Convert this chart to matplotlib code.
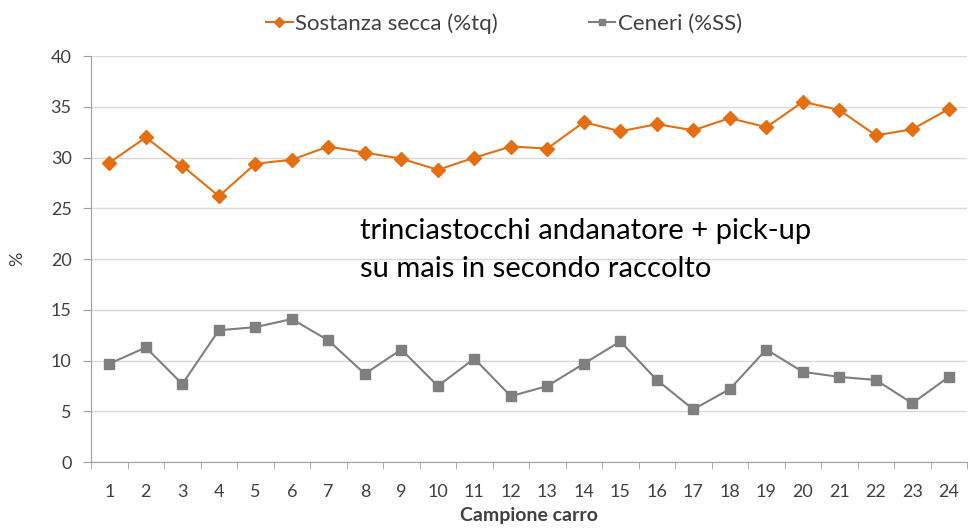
import matplotlib.pyplot as plt

campioni = list(range(1, 25))
sostanza_secca = [29.5, 32.0, 29.2, 26.2, 29.4, 29.8, 31.1, 30.5, 29.9, 28.8, 30.0, 31.1,
                  30.9, 33.5, 32.6, 33.3, 32.7, 33.9, 33.0, 35.5, 34.7, 32.2, 32.8, 34.8]
ceneri = [9.7, 11.3, 7.7, 13.0, 13.3, 14.1, 12.0, 8.7, 11.1, 7.5, 10.2, 6.5,
          7.5, 9.7, 11.9, 8.1, 5.2, 7.2, 11.1, 8.9, 8.4, 8.1, 5.8, 8.4]
y_ticks = [0, 5, 10, 15, 20, 25, 30, 35, 40]

plt.rcParams['font.family'] = ['Lato', 'DejaVu Sans']

fig = plt.figure(figsize=(9.69, 5.30), dpi=100)
ax = fig.add_axes([0.094, 0.128, 0.904, 0.766])

orange = '#E46F12'
grey = '#7F7F7F'

ax.plot(campioni, sostanza_secca, color=orange, lw=1.5, marker='D', ms=7,
        label='Sostanza secca (%tq)')
ax.plot(campioni, ceneri, color=grey, lw=1.5, marker='s', ms=7,
        label='Ceneri (%SS)')

ax.set_xlim(0.5, 24.5)
ax.set_ylim(0, 40)
ax.set_yticks(y_ticks)
ax.set_xticks(campioni)
ax.set_xticks([i + 0.5 for i in range(0, 25)], minor=True)
ax.tick_params(axis='x', which='major', length=0, labelsize=13, colors='#404040', pad=16)
ax.tick_params(axis='x', which='minor', length=5, color='#A0A0A0', direction='out')
ax.tick_params(axis='y', length=6, color='#A0A0A0', labelsize=13, labelcolor='#404040', pad=8)

ax.grid(axis='y', color='#D9D9D9', lw=1)
ax.set_axisbelow(True)
for s in ['top', 'right']:
    ax.spines[s].set_visible(False)
for s in ['left', 'bottom']:
    ax.spines[s].set_color('#A0A0A0')

ax.set_xlabel('Campione carro', fontsize=14, fontweight='bold', color='#404040', labelpad=5)
ax.set_ylabel('%', fontsize=13, color='#404040', labelpad=18)

ax.text(7.87, 20.9, 'trinciastocchi andanatore + pick-up\nsu mais in secondo raccolto',
        fontsize=21, color='black', va='center', ha='left', linespacing=1.53)

fig.legend(loc='center', bbox_to_anchor=(0.52, 0.955), ncol=2, frameon=False,
           fontsize=16, handlelength=1.2, handletextpad=0.1, columnspacing=4.1,
           markerscale=0.7, labelcolor='#404040')

fig.savefig('out.png', dpi=100)
